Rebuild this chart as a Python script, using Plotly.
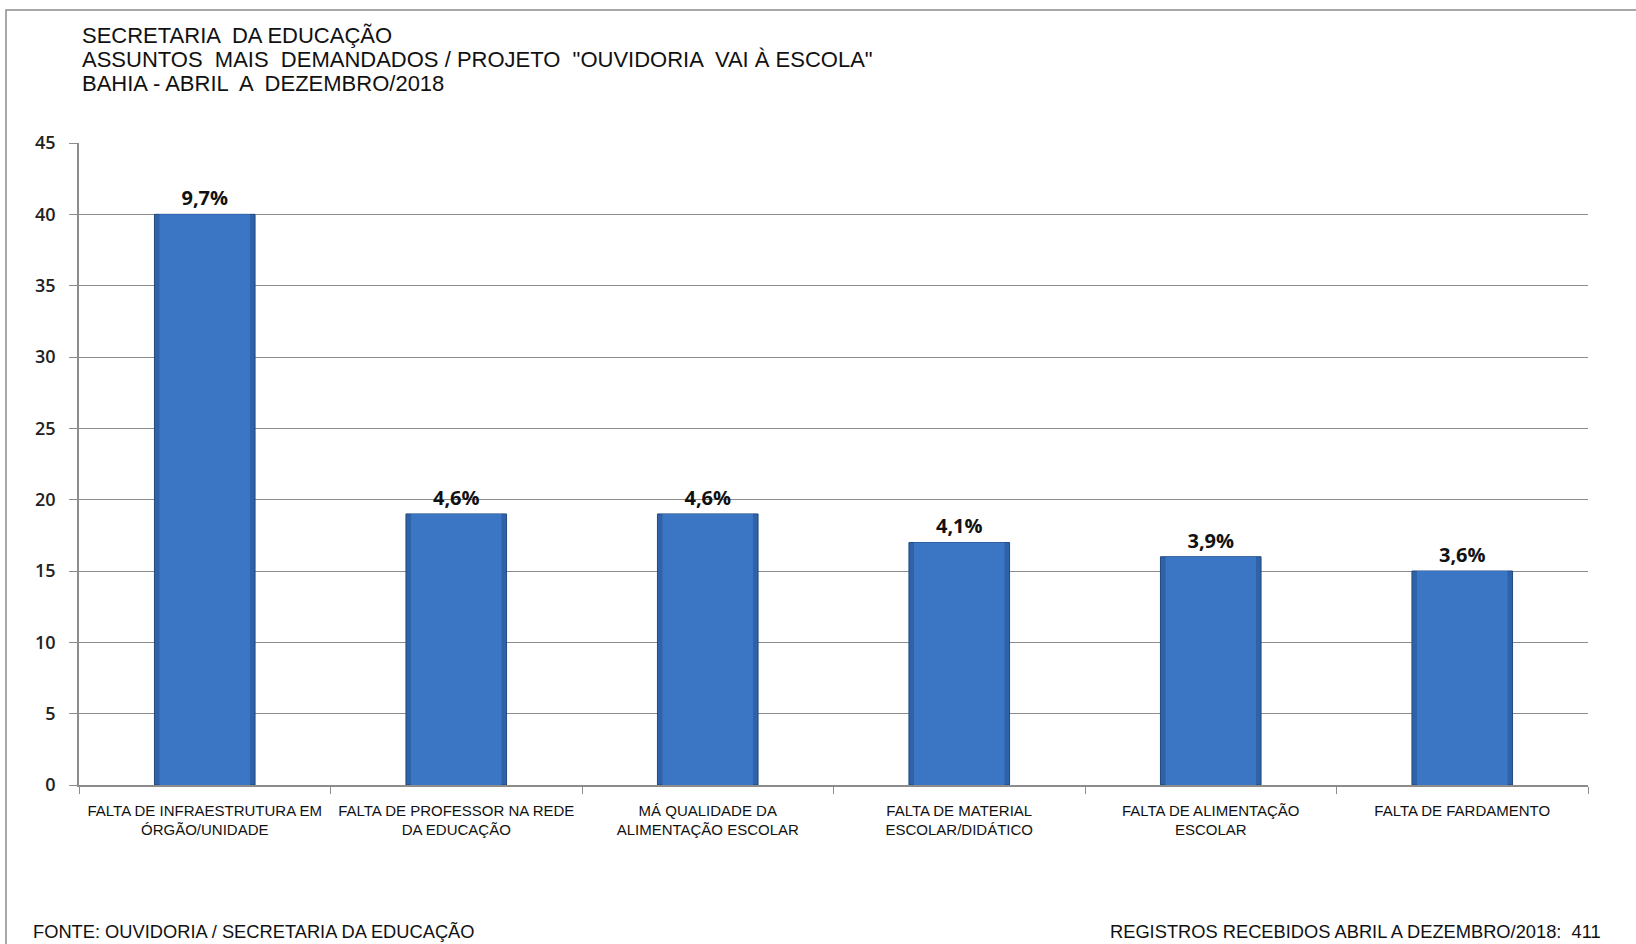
import plotly.graph_objects as go

categories = [
    "FALTA DE INFRAESTRUTURA EM<br>ÓRGÃO/UNIDADE",
    "FALTA DE PROFESSOR NA REDE<br>DA EDUCAÇÃO",
    "MÁ QUALIDADE DA<br>ALIMENTAÇÃO ESCOLAR",
    "FALTA DE MATERIAL<br>ESCOLAR/DIDÁTICO",
    "FALTA DE ALIMENTAÇÃO<br>ESCOLAR",
    "FALTA DE FARDAMENTO",
]
values = [40, 19, 19, 17, 16, 15]
pct_labels = ["9,7%", "4,6%", "4,6%", "4,1%", "3,9%", "3,6%"]
y_ticks = [0, 5, 10, 15, 20, 25, 30, 35, 40, 45]

title_lines = [
    "SECRETARIA  DA EDUCAÇÃO",
    "ASSUNTOS  MAIS  DEMANDADOS / PROJETO  \"OUVIDORIA  VAI À ESCOLA\"",
    "BAHIA - ABRIL  A  DEZEMBRO/2018",
]
footer_left = "FONTE: OUVIDORIA / SECRETARIA DA EDUCAÇÃO"
footer_right = "REGISTROS RECEBIDOS ABRIL A DEZEMBRO/2018:  411"

W, H = 1636, 944
L, R, T, B = 79, 48, 143, 159

fig = go.Figure()
# bar body with a darker rim to suggest the bevelled look
fig.add_trace(go.Bar(
    x=categories, y=values, width=0.4,
    marker=dict(color="#2f62a8", line=dict(color="#21497f", width=1)),
    hoverinfo="skip",
))
fig.add_trace(go.Bar(
    x=categories, y=values, width=0.36,
    marker=dict(color="#3a76c4", line=dict(width=0)),
    text=pct_labels, textposition="outside", cliponaxis=False,
    textfont=dict(family="Open Sans, Liberation Sans, Arial", size=20, color="#111111", weight="bold"),
    hoverinfo="skip",
))

def px_x(px):
    return (px - L) / (W - L - R)

def px_y(py):
    return 1 - (py - T) / (H - T - B)

annotations = []
for i, line in enumerate(title_lines):
    annotations.append(dict(
        text=line, x=px_x(80), y=px_y(36 + i * 24), xref="paper", yref="paper",
        xanchor="left", yanchor="middle", showarrow=False,
        font=dict(family="Liberation Sans, Arial", size=22, color="#111111"),
    ))
annotations.append(dict(
    text=footer_left, x=px_x(31), y=px_y(931), xref="paper", yref="paper",
    xanchor="left", yanchor="middle", showarrow=False,
    font=dict(family="Liberation Sans, Arial", size=18.3, color="#111111"),
))
annotations.append(dict(
    text=footer_right, x=px_x(1603), y=px_y(931), xref="paper", yref="paper",
    xanchor="right", yanchor="middle", showarrow=False,
    font=dict(family="Liberation Sans, Arial", size=18.3, color="#111111"),
))

fig.update_layout(
    width=W, height=H,
    margin=dict(l=L, r=R, t=T, b=B),
    paper_bgcolor="white", plot_bgcolor="white",
    showlegend=False,
    barmode="overlay",
    annotations=annotations,
    shapes=[dict(
        type="rect", xref="paper", yref="paper",
        x0=px_x(6), x1=px_x(1700), y0=px_y(1000), y1=px_y(10),
        line=dict(color="#8c8c8c", width=1.5), fillcolor="rgba(0,0,0,0)", layer="below",
    )],
    xaxis=dict(
        type="category", tickson="boundaries", ticks="outside", ticklen=7,
        tickcolor="#8c8c8c", showline=True, linecolor="#8c8c8c", linewidth=1.5,
        showgrid=False, ticklabelstandoff=11,
        tickfont=dict(family="Liberation Sans Narrow, Liberation Sans, Arial", size=15, color="#111111"),
    ),
    yaxis=dict(
        range=[0, 45], tickvals=y_ticks, ticks="outside", ticklen=8,
        tickcolor="#8c8c8c", showline=True, linecolor="#8c8c8c", linewidth=1.5,
        showgrid=True, gridcolor="#8c8c8c", gridwidth=1, zeroline=False,
        ticklabelstandoff=10,
        tickfont=dict(family="Open Sans, Liberation Sans, Arial", size=18, color="#222222", weight=600),
    ),
)

fig.write_html("out.html")
